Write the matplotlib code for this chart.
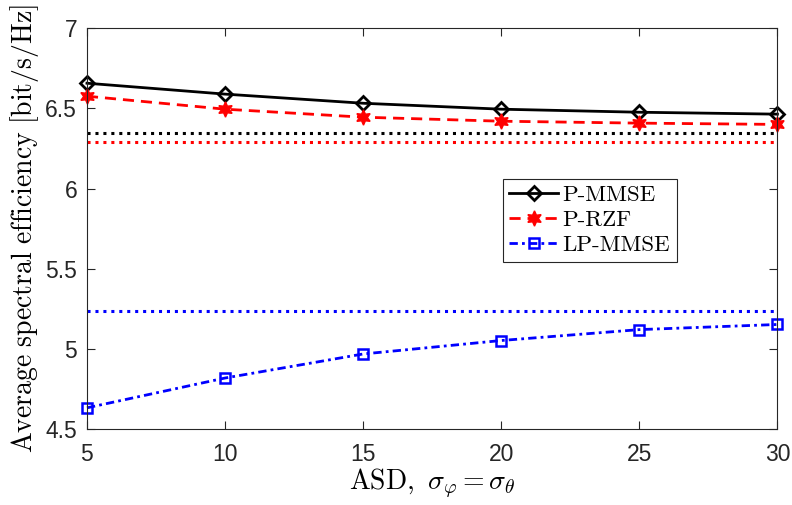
import matplotlib
matplotlib.use("Agg")
import matplotlib.pyplot as plt
import numpy as np

asd = [5, 10, 15, 20, 25, 30]
p_mmse = [6.657, 6.589, 6.532, 6.495, 6.476, 6.464]
p_rzf = [6.576, 6.495, 6.445, 6.420, 6.408, 6.400]
lp_mmse = [4.632, 4.818, 4.968, 5.052, 5.120, 5.152]
ref_p_mmse = 6.345
ref_p_rzf = 6.289
ref_lp_mmse = 5.233

plt.rcParams['mathtext.fontset'] = 'cm'
plt.rcParams['axes.unicode_minus'] = False

fig = plt.figure(figsize=(7.92, 5.05), dpi=100)
ax = fig.add_axes([0.1098, 0.1505, 0.8718, 0.7936])

hexagram = (6, 1, 0)

ax.axhline(ref_p_mmse, color='black', linestyle=':', linewidth=2.2, dashes=(1, 1.6))
ax.axhline(ref_p_rzf, color='red', linestyle=':', linewidth=2.2, dashes=(1, 1.6))
ax.axhline(ref_lp_mmse, color='blue', linestyle=':', linewidth=2.2, dashes=(1, 1.6))

ax.plot(asd, p_mmse, color='black', linestyle='-', linewidth=2, marker='D',
        markersize=7, markerfacecolor='none', markeredgewidth=2, label='P-MMSE', clip_on=False)
ax.plot(asd, p_rzf, color='red', linestyle='--', linewidth=2, dashes=(4, 2.5), marker=hexagram,
        markersize=11, markerfacecolor='red', markeredgewidth=1, label='P-RZF', clip_on=False)
ax.plot(asd, lp_mmse, color='blue', linestyle='-.', linewidth=2, dashes=(3, 1.5, 1, 1.5), marker='s',
        markersize=7, markerfacecolor='none', markeredgewidth=1.8, label='LP-MMSE', clip_on=False)

ax.set_xlim(5, 30)
ax.set_ylim(4.5, 7)
ax.set_xticks([5, 10, 15, 20, 25, 30])
ax.set_yticks([4.5, 5, 5.5, 6, 6.5, 7])
ax.set_yticklabels(['4.5', '5', '5.5', '6', '6.5', '7'])

for lab in ax.get_xticklabels() + ax.get_yticklabels():
    lab.set_fontfamily('Liberation Sans')
    lab.set_fontsize(16.5)
    lab.set_color('#262626')

ax.tick_params(direction='in', length=6, width=0.8, top=True, right=True,
               colors='#262626')
ax.tick_params(axis='x', pad=10)
ax.tick_params(axis='y', pad=7)
for sp in ax.spines.values():
    sp.set_color('#262626')
    sp.set_linewidth(0.8)

ax.set_xlabel(r'$\mathrm{ASD},\ \sigma_\varphi = \sigma_\theta$', fontsize=20, labelpad=1)
ax.set_ylabel(r'$\mathrm{Average\ spectral\ efficiency\ [bit/s/Hz]}$', fontsize=20, labelpad=3)

leg = ax.legend(loc='upper left', bbox_to_anchor=(0.602, 0.625),
                prop={'family': 'cmr10', 'size': 16.5}, frameon=True, fancybox=False,
                edgecolor='#262626', framealpha=1, handlelength=2.1, borderpad=0.3,
                labelspacing=0.2, handletextpad=0.2, borderaxespad=0)
leg.get_frame().set_linewidth(0.8)

fig.savefig('out.png', dpi=100)
